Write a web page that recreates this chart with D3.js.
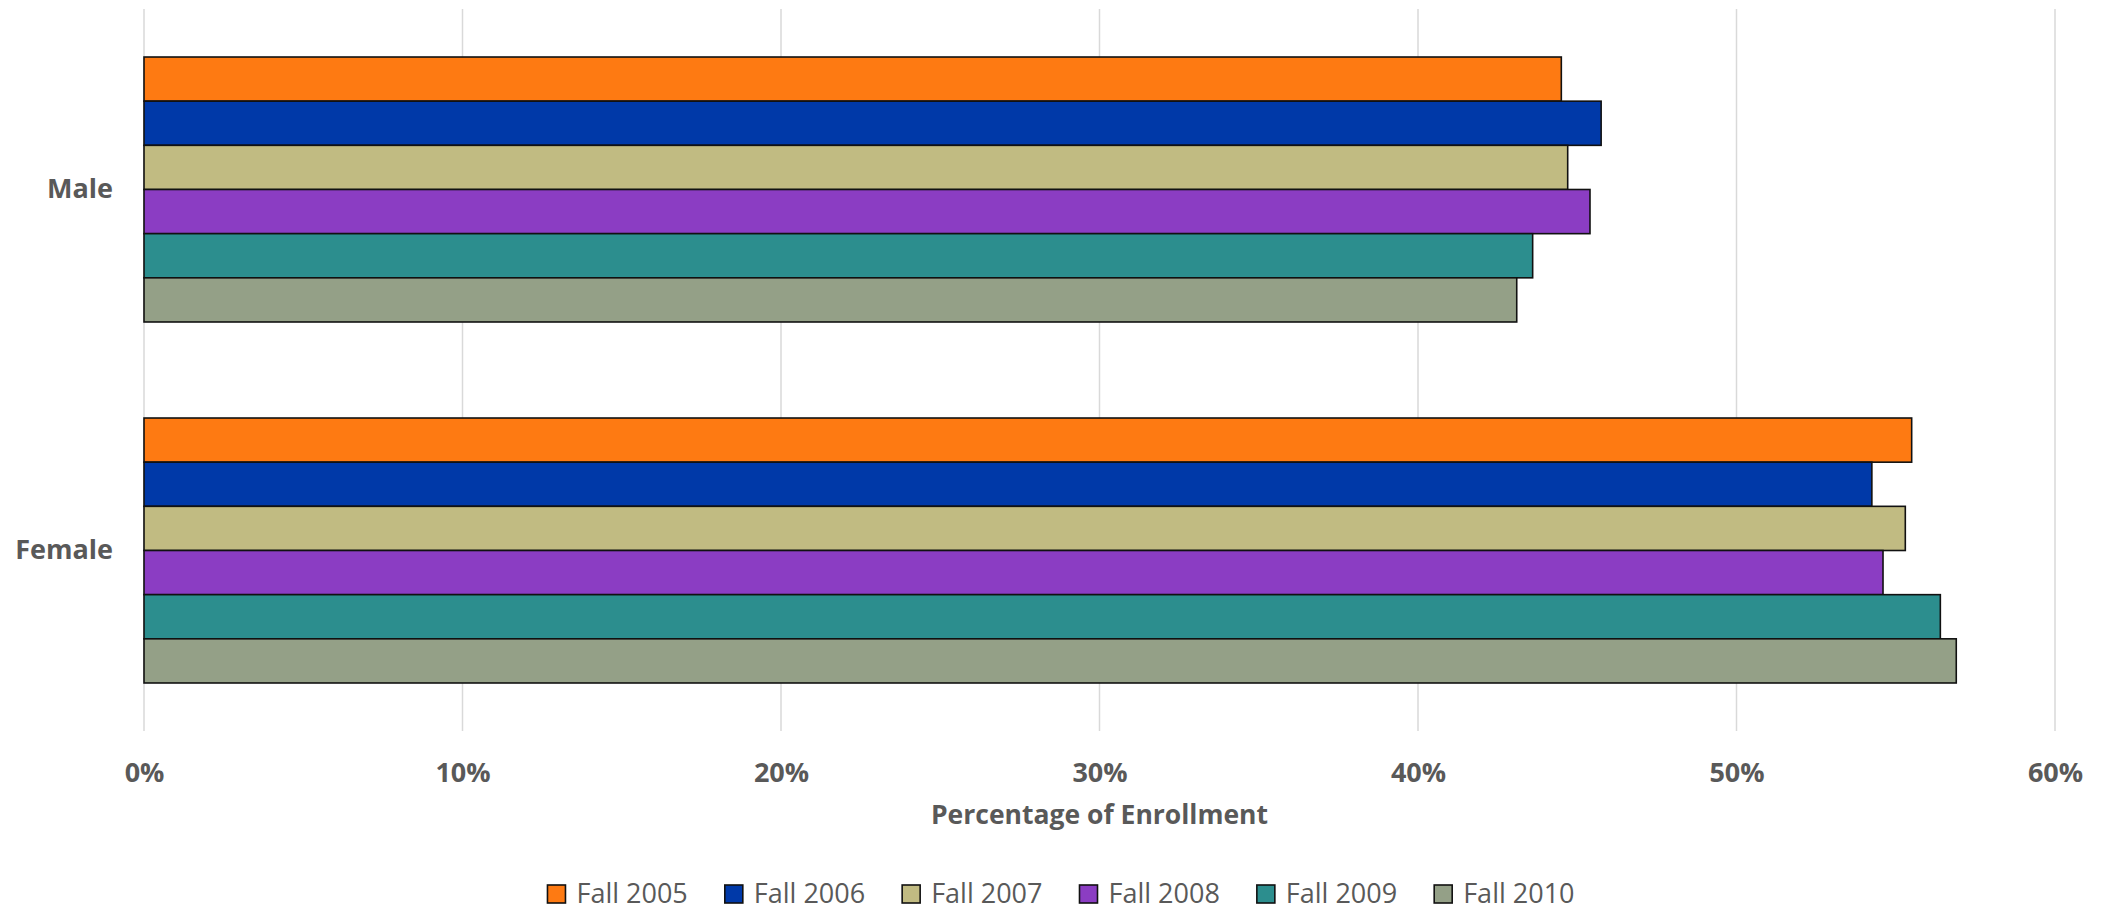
<!DOCTYPE html>
<html>
<head>
<meta charset="utf-8">
<script src="https://cdn.jsdelivr.net/npm/d3@7"></script>
<style>
  html, body { margin: 0; padding: 0; background: #fff; }
  svg { display: block; }
  text { font-family: "Open Sans", sans-serif; fill: #595959; }
</style>
</head>
<body>
<svg id="chart" width="2104" height="911"></svg>
<script>
// Enrollment share by gender, fall terms 2005-2010 (percent)
const categories = ["Male", "Female"];
const seriesNames = ["Fall 2005", "Fall 2006", "Fall 2007", "Fall 2008", "Fall 2009", "Fall 2010"];
const maleValues = [44.5, 45.75, 44.7, 45.4, 43.6, 43.1];
const femaleValues = [55.5, 54.25, 55.3, 54.6, 56.4, 56.9];
const tickValues = [0, 10, 20, 30, 40, 50, 60];
const seriesColors = ["#fe7a12", "#0039a8", "#c1bb82", "#8b3dc3", "#2c8e8e", "#94a087"];
const axisTitle = "Percentage of Enrollment";

const valuesByCategory = { Male: maleValues, Female: femaleValues };
const rows = categories.map(c => ({
  category: c,
  values: seriesNames.map((s, i) => ({ series: s, value: valuesByCategory[c][i] }))
}));

const svg = d3.select("#chart");
const plot = { left: 144, right: 2055, top: 9, bottom: 731 };

const x = d3.scaleLinear().domain([0, 60]).range([plot.left, plot.right]);
const y = d3.scaleBand().domain(categories).range([plot.top, plot.bottom])
  .paddingInner(0.266).paddingOuter(0.133);
const ySub = d3.scaleBand().domain(seriesNames).range([0, y.bandwidth()]);
const color = d3.scaleOrdinal().domain(seriesNames).range(seriesColors);

// vertical gridlines
svg.append("g").selectAll("line").data(tickValues).join("line")
  .attr("x1", d => x(d)).attr("x2", d => x(d))
  .attr("y1", plot.top).attr("y2", plot.bottom)
  .attr("stroke", "#d9d9d9").attr("stroke-width", 1.5);

// bars
const groups = svg.append("g").selectAll("g").data(rows).join("g")
  .attr("transform", d => `translate(0,${y(d.category)})`);
groups.selectAll("rect").data(d => d.values).join("rect")
  .attr("x", x(0))
  .attr("y", d => ySub(d.series))
  .attr("width", d => x(d.value) - x(0))
  .attr("height", ySub.bandwidth())
  .attr("fill", d => color(d.series))
  .attr("stroke", "#111")
  .attr("stroke-width", 1.6);

// x axis labels
const xAxis = d3.axisBottom(x).tickValues(tickValues)
  .tickFormat(d => d + "%").tickSize(0).tickPadding(32);
const gx = svg.append("g").attr("transform", `translate(0,${plot.bottom})`).call(xAxis);
gx.select(".domain").remove();
gx.selectAll("text").attr("font-family", "Open Sans").attr("font-size", 27)
  .attr("font-weight", 700).attr("fill", "#595959");

// category labels
const yAxis = d3.axisLeft(y).tickSize(0).tickPadding(31);
const gy = svg.append("g").attr("transform", `translate(${plot.left},0)`).call(yAxis);
gy.select(".domain").remove();
gy.selectAll("text").attr("font-family", "Open Sans").attr("font-size", 27)
  .attr("font-weight", 700).attr("fill", "#595959");

// axis title
svg.append("text")
  .attr("x", (plot.left + plot.right) / 2).attr("y", 824)
  .attr("text-anchor", "middle")
  .attr("font-size", 26.5).attr("font-weight", 700)
  .text(axisTitle);

// legend
const legend = svg.append("g");
const items = legend.selectAll("g").data(seriesNames).join("g");
items.append("rect")
  .attr("width", 18).attr("height", 18).attr("y", -18)
  .attr("fill", d => color(d)).attr("stroke", "#111").attr("stroke-width", 1.6);
items.append("text")
  .attr("x", 29).attr("y", 0)
  .attr("font-size", 27).attr("font-weight", 400)
  .text(d => d);
let offset = 0;
items.each(function () {
  const w = this.getBBox().width;
  d3.select(this).attr("transform", `translate(${offset},903)`);
  offset += w + 37;
});
const legendWidth = offset - 37;
legend.attr("transform", `translate(${1061 - legendWidth / 2},0)`);
</script>
</body>
</html>
